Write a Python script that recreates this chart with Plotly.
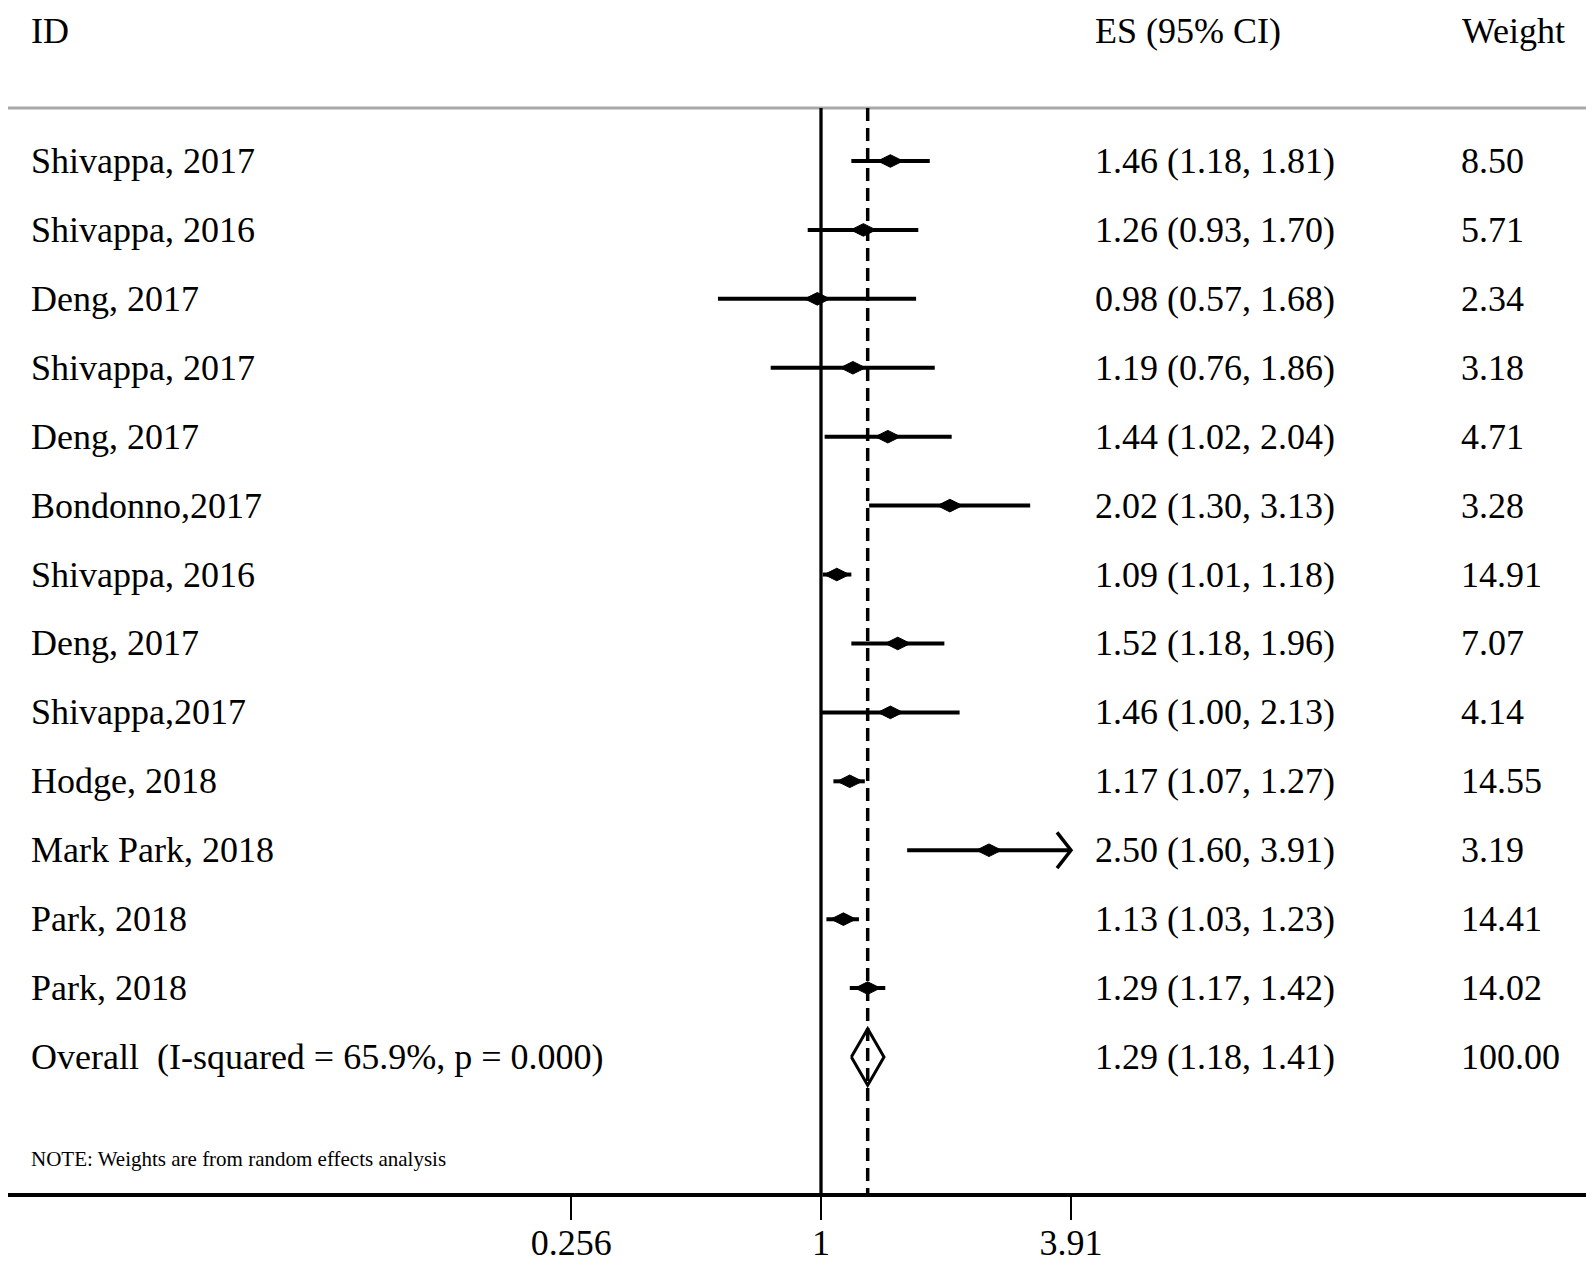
import numpy as np
import plotly.graph_objects as go

# forest plot values
studies = ["Shivappa, 2017", "Shivappa, 2016", "Deng, 2017", "Shivappa, 2017", "Deng, 2017",
           "Bondonno,2017", "Shivappa, 2016", "Deng, 2017", "Shivappa,2017", "Hodge, 2018",
           "Mark Park, 2018", "Park, 2018", "Park, 2018"]
es = [1.46, 1.26, 0.98, 1.19, 1.44, 2.02, 1.09, 1.52, 1.46, 1.17, 2.50, 1.13, 1.29]
lo = [1.18, 0.93, 0.57, 0.76, 1.02, 1.30, 1.01, 1.18, 1.00, 1.07, 1.60, 1.03, 1.17]
hi = [1.81, 1.70, 1.68, 1.86, 2.04, 3.13, 1.18, 1.96, 2.13, 1.27, 3.91, 1.23, 1.42]
weights = [8.50, 5.71, 2.34, 3.18, 4.71, 3.28, 14.91, 7.07, 4.14, 14.55, 3.19, 14.41, 14.02]

overall_label = "Overall  (I-squared = 65.9%, p = 0.000)"
ov_es, ov_lo, ov_hi, ov_w = 1.29, 1.18, 1.41, 100.00

tick_vals = [0.256, 1, 3.91]
tick_text = ["0.256", "1", "3.91"]

OFF = 8  # page body margin
W, H = 1594 - OFF, 1271 - OFF
FONT = "Liberation Serif"
plot_h = 1193 - OFF  # axis line at the bottom of the plot area
row_gap = 68.92
first_row = 161 - OFF

y_top = -first_row / row_gap
n = len(studies)
y_bot = n + (plot_h - (1057 - OFF)) / row_gap


def py(p):
    # page pixel row -> y value
    return y_top + (p - OFF) / row_gap


fig = go.Figure()

# confidence intervals
ci_x, ci_y = [], []
arrows_x, arrows_y = [], []
for i in range(n):
    ci_x += [lo[i], min(hi[i], tick_vals[-1]), None]
    ci_y += [i, i, None]
    if hi[i] >= tick_vals[-1]:
        arrows_x += [tick_vals[-1] / 1.079, tick_vals[-1], tick_vals[-1] / 1.079, None]
        arrows_y += [i - 0.26, i, i + 0.26, None]

fig.add_trace(go.Scatter(x=ci_x, y=ci_y, mode="lines", line=dict(color="black", width=4),
                         hoverinfo="skip", showlegend=False))
fig.add_trace(go.Scatter(x=arrows_x, y=arrows_y, mode="lines", line=dict(color="black", width=3.5),
                         hoverinfo="skip", showlegend=False))
fig.add_trace(go.Scatter(x=es, y=list(range(n)), mode="markers",
                         marker=dict(symbol="diamond-wide", size=18, color="black",
                                     line=dict(color="black", width=1)),
                         showlegend=False))

# overall diamond
fig.add_trace(go.Scatter(x=[ov_lo, ov_es, ov_hi, ov_es, ov_lo], y=[n, n - 0.41, n, n + 0.41, n],
                         mode="lines", line=dict(color="black", width=3),
                         hoverinfo="skip", showlegend=False))

# reference lines
fig.add_shape(type="line", xref="paper", yref="y", x0=0, x1=(1586 - OFF) / W, y0=py(108), y1=py(108),
              line=dict(color="#a8a8a8", width=3))
fig.add_shape(type="line", xref="x", yref="y", x0=1, x1=1, y0=py(108), y1=y_bot,
              line=dict(color="black", width=3.3))
fig.add_shape(type="line", xref="x", yref="y", x0=ov_es, x1=ov_es, y0=py(108), y1=y_bot,
              line=dict(color="black", width=3.5, dash="13px,7px"))


def ann(text, xpx, yv, size=36):
    fig.add_annotation(text=text, x=(xpx - OFF) / W, y=yv, xref="paper", yref="y",
                       xanchor="left", yanchor="middle", showarrow=False,
                       font=dict(family=FONT, size=size, color="black"))


# headers
ann("ID", 29, py(31))
ann("ES (95% CI)", 1093, py(31))
ann("Weight", 1460, py(31))

for i in range(n):
    ann(studies[i], 29, i)
    ann(f"{es[i]:.2f} ({lo[i]:.2f}, {hi[i]:.2f})", 1093, i)
    ann(f"{weights[i]:.2f}", 1459, i)

ann(overall_label, 29, n)
ann(f"{ov_es:.2f} ({ov_lo:.2f}, {ov_hi:.2f})", 1093, n)
ann(f"{ov_w:.2f}", 1459, n)

ann("NOTE: Weights are from random effects analysis", 29, py(1159), size=21)

px_per_dec = 422.1
x_left = -(821 - 8) / px_per_dec
x_right = (1586 - 821) / px_per_dec

fig.update_layout(
    width=W, height=H,
    margin=dict(l=0, r=0, t=0, b=H - plot_h),
    plot_bgcolor="white", paper_bgcolor="white",
    xaxis=dict(type="log", range=[x_left, x_right],
               domain=[0, (1586 - OFF) / W],
               tickvals=tick_vals, ticktext=tick_text,
               ticks="outside", ticklen=23, tickwidth=2, tickcolor="black",
               ticklabelstandoff=-8,
               tickfont=dict(family=FONT, size=36, color="black"),
               showline=True, linecolor="black", linewidth=4,
               showgrid=False, zeroline=False),
    yaxis=dict(range=[y_bot, y_top], visible=False, showgrid=False, zeroline=False),
)

fig.write_html("out.html")
